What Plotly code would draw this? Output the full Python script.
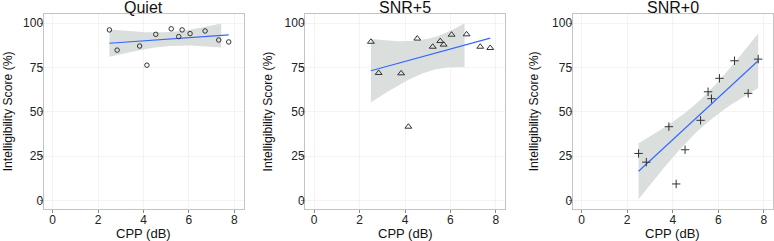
import numpy as np
import plotly.graph_objects as go

# ---- data ----
cpp = [2.50, 2.84, 3.83, 4.15, 4.54, 5.22, 5.55, 5.70, 6.05, 6.71, 7.31, 7.75]
quiet = [96.2, 84.8, 87.1, 76.3, 93.7, 96.8, 92.4, 96.2, 94.1, 95.6, 90.5, 89.4]
snr5 = [89.5, 71.9, 71.7, 41.6, 91.3, 86.7, 89.9, 87.9, 93.5, 93.7, 86.7, 86.0]
snr0 = [26.5, 21.6, 41.6, 9.3, 28.6, 45.2, 61.3, 57.4, 68.9, 78.8, 60.4, 79.7]
panel_titles = ["Quiet", "SNR+5", "SNR+0"]
x_ticks = [0, 2, 4, 6, 8]
y_ticks = [0, 25, 50, 75, 100]
T_975_DF10 = 2.228  # t quantile used for the 95% band (n=12)

series = [quiet, snr5, snr0]
symbols = ["circle-open", "triangle-up-open", "cross-thin-open"]
sizes = [4.5, 6, 6]

W, H = 774, 241
x_dom_px = [(43.5, 243.5), (305, 505), (572.5, 773)]
y_top_px, y_bot_px = 14.3, 209.3
y_dom = [(H - y_bot_px) / H, (H - y_top_px) / H]

fig = go.Figure()
FONT = "Liberation Sans, Arial, sans-serif"
band_col = "#dadfde"
line_col = "#3366FF"

for i, (ys, sym, title) in enumerate(zip(series, symbols, panel_titles)):
    xa = "x" if i == 0 else f"x{i+1}"
    ya = "y" if i == 0 else f"y{i+1}"
    x = np.array(cpp)
    y = np.array(ys)
    n = len(x)
    X = np.column_stack([np.ones(n), x])
    beta, *_ = np.linalg.lstsq(X, y, rcond=None)
    resid = y - X @ beta
    s2 = resid @ resid / (n - 2)
    xm = x.mean()
    sxx = ((x - xm) ** 2).sum()
    grid = np.linspace(x.min(), x.max(), 80)
    fit = beta[0] + beta[1] * grid
    se = np.sqrt(s2 * (1 / n + (grid - xm) ** 2 / sxx))
    lo = fit - T_975_DF10 * se
    hi = fit + T_975_DF10 * se
    ok = (hi <= 100) & (lo >= 0)
    gx = grid[ok]
    fig.add_trace(go.Scatter(
        x=np.concatenate([gx, gx[::-1]]),
        y=np.concatenate([hi[ok], lo[ok][::-1]]),
        fill="toself", fillcolor=band_col, line=dict(width=0),
        mode="lines", hoverinfo="skip", showlegend=False, xaxis=xa, yaxis=ya))
    fig.add_trace(go.Scatter(
        x=grid, y=fit, mode="lines", line=dict(color=line_col, width=1.1),
        showlegend=False, xaxis=xa, yaxis=ya))
    fig.add_trace(go.Scatter(
        x=cpp, y=ys, mode="markers",
        marker=dict(symbol=sym, size=sizes[i],
                    color="#333333", line=dict(width=1, color="#333333")),
        showlegend=False, xaxis=xa, yaxis=ya))

    x0, x1 = x_dom_px[i]
    axis_common = dict(
        showline=True, mirror=True, linecolor="#c4c4c4", linewidth=1,
        showgrid=True, gridcolor="#f3f3f3", gridwidth=1, zeroline=False,
        ticks="outside", ticklen=3, tickcolor="#8a8a8a", tickwidth=1,
        tickfont=dict(family=FONT, size=12, color="#222222"),
    )
    fig.update_layout({
        ("xaxis" if i == 0 else f"xaxis{i+1}"): dict(
            domain=[x0 / W, x1 / W], range=[-0.4, 8.4], tickvals=x_ticks,
            anchor=ya, ticklabelstandoff=-4, **axis_common),
        ("yaxis" if i == 0 else f"yaxis{i+1}"): dict(
            domain=y_dom, range=[-5, 105], tickvals=y_ticks,
            anchor=xa, ticklabelstandoff=-6, **axis_common),
    })
    cx = (x0 + x1) / 2 / W
    fig.add_annotation(text=title, x=cx, y=(H - 7) / H, xref="paper", yref="paper",
                       showarrow=False, font=dict(family=FONT, size=16, color="#111111"),
                       xanchor="center", yanchor="middle")
    fig.add_annotation(text="CPP (dB)", x=cx, y=(H - 233.5) / H, xref="paper", yref="paper",
                       showarrow=False, font=dict(family=FONT, size=13, color="#111111"),
                       xanchor="center", yanchor="middle")
    ytx = [7.5, 267.7, 533.5][i]
    fig.add_annotation(text="Intelligibility Score (%)", x=ytx / W,
                       y=(H - (y_top_px + y_bot_px) / 2) / H, xref="paper", yref="paper",
                       showarrow=False, textangle=-90,
                       font=dict(family=FONT, size=12.2, color="#111111"),
                       xanchor="center", yanchor="middle")

fig.update_layout(width=W, height=H, margin=dict(l=0, r=0, t=0, b=0),
                  plot_bgcolor="white", paper_bgcolor="white")
fig.write_html("out.html", config={"displayModeBar": False},
               post_script="document.body.style.margin='0';")
